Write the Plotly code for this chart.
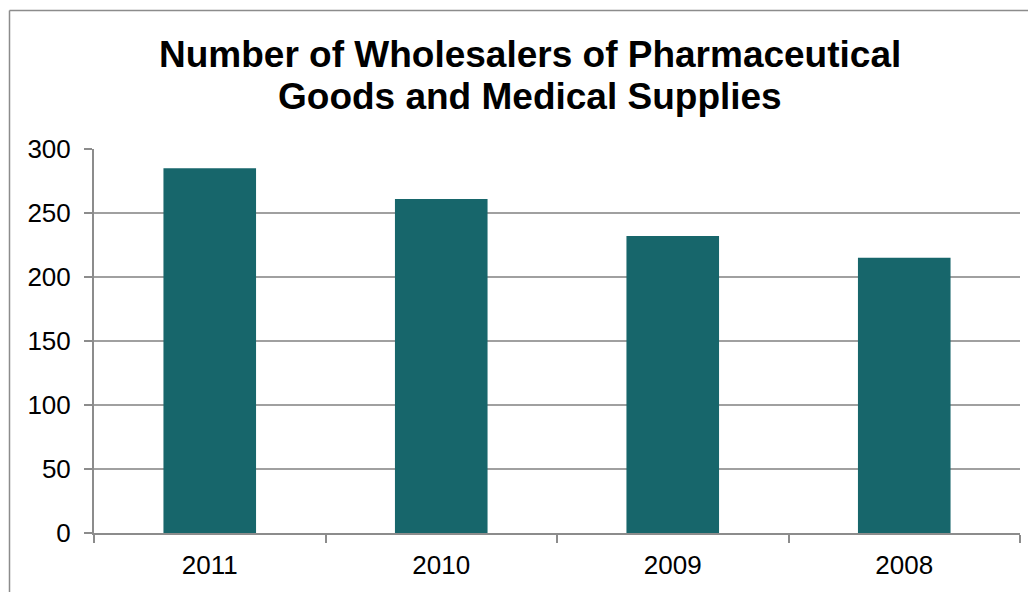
import plotly.graph_objects as go

years = ["2011", "2010", "2009", "2008"]
wholesalers = [285, 261, 232, 215]
y_ticks = [0, 50, 100, 150, 200, 250, 300]
title_lines = ["Number of Wholesalers of Pharmaceutical", "Goods and Medical Supplies"]

OFF = 8  # page offset of the figure inside the browser window
L, R, T, B = 94 - OFF, 24, 149 - OFF, 67
W, H = 1036, 592
pw, ph = W - L - R, H - T - B

FONT = "Liberation Sans, Arial, sans-serif"

fig = go.Figure(
    go.Bar(x=years, y=wholesalers, marker=dict(color="#17666B", line=dict(width=0)))
)

def px_x(p):
    return (p - OFF - L) / pw

def px_y(p):
    return (H - B - (p - OFF)) / ph

annotations = [
    dict(text=f"<b>{t}</b>", xref="paper", yref="paper", x=px_x(530), y=px_y(yy),
         xanchor="center", yanchor="middle", showarrow=False,
         font=dict(size=37, family=FONT, color="black"))
    for t, yy in zip(title_lines, [54, 97])
]

fig.update_layout(
    width=W, height=H,
    margin=dict(l=L, r=R, t=T, b=B),
    paper_bgcolor="white", plot_bgcolor="white",
    bargap=0.6,
    font=dict(family=FONT, color="black", size=26),
    showlegend=False,
    annotations=annotations,
    xaxis=dict(type="category", showline=True, linecolor="#8C8C8C", linewidth=2,
               ticks="outside", tickson="boundaries", ticklen=8, tickcolor="#8C8C8C", tickwidth=2,
               showgrid=False, ticklabelstandoff=8,
               tickfont=dict(size=26)),
    yaxis=dict(range=[0, 300], tickvals=y_ticks, showline=True, linecolor="#8C8C8C", linewidth=2,
               ticks="outside", ticklen=8, tickcolor="#8C8C8C", tickwidth=2,
               showgrid=True, gridcolor="#A0A0A0", gridwidth=2, zeroline=False,
               ticklabelstandoff=8, tickfont=dict(size=26)),
    shapes=[
        dict(type="line", xref="paper", yref="paper", x0=px_x(9.5), x1=px_x(W + 20),
             y0=px_y(10.5), y1=px_y(10.5), line=dict(color="#8C8C8C", width=1.5)),
        dict(type="line", xref="paper", yref="paper", x0=px_x(9.5), x1=px_x(9.5),
             y0=px_y(10.5), y1=px_y(H + 20), line=dict(color="#8C8C8C", width=1.5)),
    ],
)

fig.write_html("out.html")
